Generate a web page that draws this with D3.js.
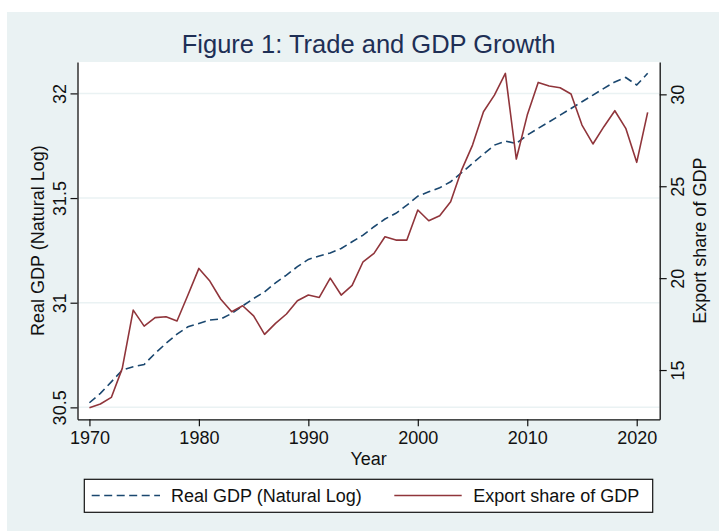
<!DOCTYPE html>
<html><head><meta charset="utf-8">
<script src="https://cdn.jsdelivr.net/npm/d3@7"></script>
<style>body{margin:0;background:#fff}svg{display:block}text{font-family:"Liberation Sans",Arial,sans-serif}</style>
</head><body>
<script>
const years = d3.range(1970, 2022);
const gdpLog = [30.522,30.567,30.622,30.678,30.694,30.705,30.758,30.806,30.850,30.885,
  30.901,30.917,30.922,30.949,30.985,31.020,31.052,31.095,31.132,31.172,
  31.207,31.223,31.238,31.259,31.291,31.323,31.363,31.400,31.427,31.466,
  31.509,31.530,31.549,31.578,31.621,31.666,31.710,31.753,31.772,31.761,
  31.801,31.833,31.864,31.896,31.928,31.960,31.992,32.024,32.055,32.076,
  32.040,32.096];
const exportShare = [12.95,13.15,13.51,15.09,18.26,17.39,17.85,17.90,17.67,19.08,
  20.53,19.84,18.85,18.17,18.50,17.95,16.94,17.54,18.05,18.77,
  19.08,18.95,20.00,19.08,19.61,20.89,21.35,22.25,22.07,22.07,
  23.71,23.12,23.40,24.16,25.88,27.24,29.05,29.96,31.14,26.48,
  28.87,30.65,30.45,30.36,30.02,28.33,27.30,28.24,29.11,28.15,
  26.30,29.02];
const xTicks = [1970,1980,1990,2000,2010,2020];
const leftTicks = [30.5,31,31.5,32];
const rightTicks = [15,20,25,30];
const titleText = "Figure 1: Trade and GDP Growth";
const leftTitle = "Real GDP (Natural Log)";
const rightTitle = "Export share of GDP";
const xTitle = "Year";

const W = 719, H = 531;
const L = 77.5, R = 659.7, T = 62, B = 419.3;
const blue = "#1a476f", red = "#90353b", bg = "#eaf2f3", ink = "#111";

const svg = d3.select("body").append("svg").attr("width", W).attr("height", H);
svg.append("rect").attr("x", 7).attr("y", 12).attr("width", W - 7).attr("height", H - 12).attr("fill", bg);
svg.append("rect").attr("x", L).attr("y", T).attr("width", R - L).attr("height", B - T).attr("fill", "#fff");

const x = d3.scaleLinear().domain([1968.91, 2022.1]).range([L, R]);
const yL = d3.scaleLinear().domain([30.443, 32.150]).range([B, T]);
const yR = d3.scaleLinear().domain([12.32, 31.76]).range([B, T]);

// gridlines
svg.append("g").selectAll("line").data(leftTicks).join("line")
  .attr("x1", L).attr("x2", R).attr("y1", d => yL(d)).attr("y2", d => yL(d))
  .attr("stroke", bg).attr("stroke-width", 1.5);

// lines
const gdpLine = d3.line().x((d, i) => x(years[i])).y(d => yL(d));
const expLine = d3.line().x((d, i) => x(years[i])).y(d => yR(d));
svg.append("path").attr("d", gdpLine(gdpLog)).attr("fill", "none")
  .attr("stroke", blue).attr("stroke-width", 1.6).attr("stroke-dasharray", "8,4.5");
svg.append("path").attr("d", expLine(exportShare)).attr("fill", "none")
  .attr("stroke", red).attr("stroke-width", 1.6).attr("stroke-linejoin", "round");

function styleAxis(g) {
  g.select(".domain").attr("stroke", ink).attr("stroke-width", 1.3);
  g.selectAll(".tick line").attr("stroke", ink).attr("stroke-width", 1.2);
  g.selectAll(".tick text").attr("fill", ink).attr("font-size", 18).attr("font-family", "Liberation Sans, Arial, sans-serif");
}

// bottom axis
const gx = svg.append("g").attr("transform", `translate(0,${B})`)
  .call(d3.axisBottom(x).tickValues(xTicks).tickFormat(d3.format("d")).tickSize(7).tickSizeOuter(0).tickPadding(5));
styleAxis(gx);

// left axis
const gl = svg.append("g").attr("transform", `translate(${L},0)`)
  .call(d3.axisLeft(yL).tickValues(leftTicks).tickFormat(d => String(d)).tickSize(7).tickSizeOuter(0));
styleAxis(gl);
gl.selectAll(".tick text").attr("transform", "rotate(-90)").attr("x", 0).attr("y", -12)
  .attr("dy", "0em").attr("text-anchor", "middle");

// right axis
const gr = svg.append("g").attr("transform", `translate(${R},0)`)
  .call(d3.axisRight(yR).tickValues(rightTicks).tickFormat(d => String(d)).tickSize(7).tickSizeOuter(0));
styleAxis(gr);
gr.selectAll(".tick text").attr("transform", "rotate(-90)").attr("x", 0).attr("y", 24)
  .attr("dy", "0em").attr("text-anchor", "middle");

// titles
svg.append("text").attr("x", (L + R) / 2).attr("y", 53).attr("text-anchor", "middle")
  .attr("font-size", 25.5).attr("fill", "#1e2f55").text(titleText);
svg.append("text").attr("x", (L + R) / 2).attr("y", 465).attr("text-anchor", "middle")
  .attr("font-size", 18).attr("fill", ink).text(xTitle);
svg.append("text").attr("transform", `translate(44,${(T + B) / 2}) rotate(-90)`).attr("text-anchor", "middle")
  .attr("font-size", 18).attr("fill", ink).text(leftTitle);
svg.append("text").attr("transform", `translate(706,${(T + B) / 2}) rotate(-90)`).attr("text-anchor", "middle")
  .attr("font-size", 18).attr("fill", ink).text(rightTitle);

// legend
const lg = svg.append("g");
lg.append("rect").attr("x", 84.3).attr("y", 479.3).attr("width", 652.7 - 84.3).attr("height", 33)
  .attr("fill", "#fff").attr("stroke", ink).attr("stroke-width", 1.2);
lg.append("line").attr("x1", 91.7).attr("x2", 160).attr("y1", 495.5).attr("y2", 495.5)
  .attr("stroke", blue).attr("stroke-width", 1.6).attr("stroke-dasharray", "8,4.5");
lg.append("text").attr("x", 171).attr("y", 502).attr("font-size", 18).attr("fill", ink).text(leftTitle);
lg.append("line").attr("x1", 394.3).attr("x2", 461.7).attr("y1", 495.5).attr("y2", 495.5)
  .attr("stroke", red).attr("stroke-width", 1.6);
lg.append("text").attr("x", 473.3).attr("y", 502).attr("font-size", 18).attr("fill", ink).text(rightTitle);
</script>
</body></html>
